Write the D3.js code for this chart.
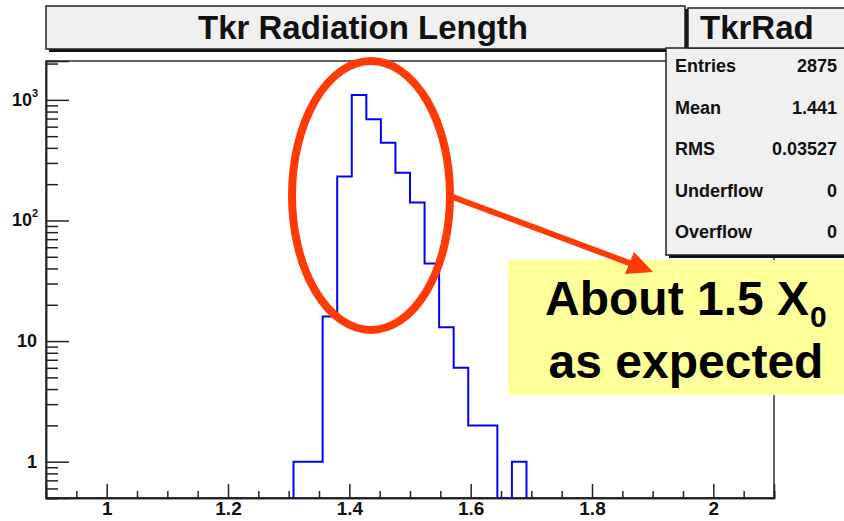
<!DOCTYPE html>
<html>
<head>
<meta charset="utf-8">
<script src="https://cdn.jsdelivr.net/npm/d3@7"></script>
<style>
  body { margin: 0; background: #fff; }
  svg { display: block; font-family: "Liberation Sans", Arial, Helvetica, sans-serif; font-weight: bold; }
</style>
</head>
<body>
<svg id="chart" width="844" height="521"></svg>
<script>
// histogram TkrRad: bin edges and counts
const binEdges = [1.308, 1.332, 1.356, 1.380, 1.404, 1.428, 1.452, 1.476, 1.500,
  1.524, 1.548, 1.572, 1.596, 1.620, 1.644, 1.668, 1.692];
const binCounts = [1, 1, 16, 231, 1099, 692, 441, 249, 141, 44, 13, 6, 2, 2, 0, 1];

const xMajor = [1, 1.2, 1.4, 1.6, 1.8, 2];
const xLabels = ["1", "1.2", "1.4", "1.6", "1.8", "2"];
const yMajor = [1, 10, 100, 1000];
const yLabelBase = ["1", "10", "10", "10"];
const yLabelExp = ["", "", "2", "3"];

const statNames = ["Entries", "Mean", "RMS", "Underflow", "Overflow"];
const statValues = ["2875", "1.441", "0.03527", "0", "0"];

const title = "Tkr Radiation Length";
const histName = "TkrRad";

const width = 844;
const height = 521;
const marginLeft = 46;
const marginRight = 70;
const marginTop = 61;
const marginBottom = 23;

const svg = d3.select("#chart");

const xScale = d3.scaleLinear()
  .domain([0.9, 2.1])
  .range([marginLeft, width - marginRight]);
const yScale = d3.scaleLog()
  .domain([0.5, 2100])
  .range([height - marginBottom, marginTop]);

// plot frame
svg.append("rect")
  .attr("x", marginLeft).attr("y", marginTop)
  .attr("width", width - marginRight - marginLeft)
  .attr("height", height - marginBottom - marginTop)
  .attr("fill", "#fff")
  .attr("stroke", "#333")
  .attr("stroke-width", 1.5);

// minor tick values
const xMinor = d3.range(19, 43).map(k => k * 0.05)
  .filter(v => !xMajor.some(m => Math.abs(m - v) < 1e-6));
const yMinor = [];
[0.1, 1, 10, 100, 1000].forEach(dec => {
  for (let m = 2; m <= 9; m++) {
    const v = m * dec;
    if (v >= 0.5 && v <= 2100) yMinor.push(v);
  }
});

const fmtX = (d) => xLabels[xMajor.findIndex(m => Math.abs(m - d) < 1e-6)];

const xAxisMajor = d3.axisBottom(xScale)
  .tickValues(xMajor)
  .tickSize(-14)
  .tickPadding(4)
  .tickFormat(fmtX);
const xAxisMinor = d3.axisBottom(xScale)
  .tickValues(xMinor)
  .tickSize(-7)
  .tickFormat("");
const yAxisMajor = d3.axisLeft(yScale)
  .tickValues(yMajor)
  .tickSize(-23)
  .tickFormat("");
const yAxisMinor = d3.axisLeft(yScale)
  .tickValues(yMinor)
  .tickSize(-12)
  .tickFormat("");

const axisY = height - marginBottom;
[xAxisMinor, xAxisMajor].forEach(ax => {
  svg.append("g")
    .attr("class", "x-axis")
    .attr("transform", `translate(0, ${axisY})`)
    .call(ax);
});
[yAxisMinor, yAxisMajor].forEach(ax => {
  svg.append("g")
    .attr("class", "y-axis")
    .attr("transform", `translate(${marginLeft}, 0)`)
    .call(ax);
});
svg.selectAll(".x-axis .domain, .y-axis .domain")
  .attr("stroke", "#222").attr("stroke-width", 1.5);
svg.selectAll(".x-axis line, .y-axis line")
  .attr("stroke", "#222").attr("stroke-width", 1.5);
svg.selectAll(".x-axis text")
  .attr("font-size", 19)
  .attr("font-family", "'Liberation Sans', Arial, sans-serif")
  .attr("font-weight", "bold")
  .attr("fill", "#111");

// y labels with exponents
const yLab = svg.append("g").attr("class", "y-labels");
yMajor.forEach((v, i) => {
  yLab.append("text")
    .attr("x", marginLeft - (yLabelExp[i] ? 14 : 9))
    .attr("y", yScale(v) + 6)
    .attr("text-anchor", "end")
    .attr("font-size", 18)
    .attr("fill", "#111")
    .text(yLabelBase[i]);
  if (yLabelExp[i]) {
    yLab.append("text")
      .attr("x", marginLeft - 14)
      .attr("y", yScale(v) - 3)
      .attr("font-size", 11)
      .attr("fill", "#111")
      .text(yLabelExp[i]);
  }
});

// histogram outline
const ymin = yScale.domain()[0];
const pts = [[binEdges[0], ymin]];
binCounts.forEach((c, i) => {
  const v = Math.max(c, ymin);
  pts.push([binEdges[i], v]);
  pts.push([binEdges[i + 1], v]);
});
pts.push([binEdges[binEdges.length - 1], ymin]);

const lineFunc = d3.line()
  .x(d => xScale(d[0]))
  .y(d => yScale(d[1]));

svg.append("path")
  .datum(pts)
  .attr("fill", "none")
  .attr("stroke", "#0000ff")
  .attr("stroke-width", 2)
  .attr("d", lineFunc);

// redraw bottom axis line over the histogram
svg.append("line")
  .attr("x1", marginLeft).attr("x2", width - marginRight)
  .attr("y1", axisY).attr("y2", axisY)
  .attr("stroke", "#222").attr("stroke-width", 1.5);

// title box with shadow
svg.append("rect")
  .attr("x", 49).attr("y", 9).attr("width", 639).attr("height", 43)
  .attr("fill", "#111");
svg.append("rect")
  .attr("x", 46).attr("y", 6).attr("width", 639).attr("height", 43)
  .attr("fill", "#f0f0f0").attr("stroke", "#222").attr("stroke-width", 1.5);
svg.append("text")
  .attr("x", 363).attr("y", 39)
  .attr("text-anchor", "middle")
  .attr("font-size", 33)
  .attr("fill", "#111")
  .text(title);

// stats box
svg.append("rect")
  .attr("x", 669).attr("y", 51).attr("width", 200).attr("height", 207)
  .attr("fill", "#111");
svg.append("rect")
  .attr("x", 666).attr("y", 48).attr("width", 200).attr("height", 207)
  .attr("fill", "#f0f0f0").attr("stroke", "#222").attr("stroke-width", 1.5);
svg.append("rect")
  .attr("x", 688).attr("y", 8).attr("width", 180).attr("height", 40)
  .attr("fill", "#f0f0f0").attr("stroke", "#222").attr("stroke-width", 1.5);
svg.append("text")
  .attr("x", 700).attr("y", 39)
  .attr("font-size", 33)
  .attr("fill", "#111")
  .text(histName);

const rowY = d3.scalePoint().domain(statNames).range([72, 238]);
statNames.forEach((n, i) => {
  svg.append("text")
    .attr("x", 675).attr("y", rowY(n))
    .attr("font-size", 18).attr("fill", "#111")
    .text(n);
  svg.append("text")
    .attr("x", 837).attr("y", rowY(n))
    .attr("text-anchor", "end")
    .attr("font-size", 18).attr("fill", "#111")
    .text(statValues[i]);
});

// annotation: yellow note, ellipse, arrow
const red = "#ff3a06";
svg.append("rect")
  .attr("x", 508).attr("y", 260).attr("width", 336).attr("height", 135)
  .attr("fill", "#ffff99");
const note = svg.append("text")
  .attr("x", 545).attr("y", 315)
  .attr("font-size", 48).attr("fill", "#000");
note.append("tspan").text("About 1.5 X");
note.append("tspan")
  .attr("font-size", 30)
  .attr("dy", 12)
  .attr("dx", 1)
  .text("0");
svg.append("text")
  .attr("x", 686).attr("y", 378)
  .attr("text-anchor", "middle")
  .attr("font-size", 48).attr("fill", "#000")
  .text("as expected");

svg.append("ellipse")
  .attr("cx", 371).attr("cy", 195.5)
  .attr("rx", 79).attr("ry", 134.5)
  .attr("fill", "none")
  .attr("stroke", red)
  .attr("stroke-width", 8);
svg.append("line")
  .attr("x1", 450).attr("y1", 196)
  .attr("x2", 632).attr("y2", 264)
  .attr("stroke", red)
  .attr("stroke-width", 6);
svg.append("polygon")
  .attr("points", "653,272 625,274 634,252")
  .attr("fill", red);
</script>
</body>
</html>
